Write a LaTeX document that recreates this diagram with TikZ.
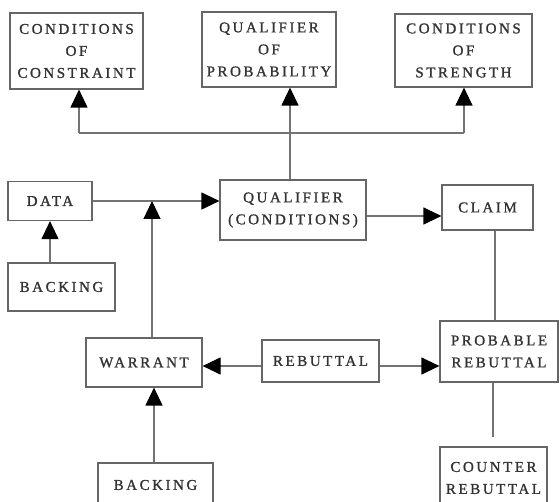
\documentclass[tikz,border=0pt]{standalone}
\usepackage{fontspec}
\usepackage{tikz}
\usetikzlibrary{arrows.meta}
\newfontfamily\boxfont[LetterSpace=17,FakeBold=1.2]{Liberation Serif}

\begin{document}
\begin{tikzpicture}[x=1pt,y=-1pt,
	box/.style={draw=black!60, line width=1.2pt, align=center, text=black!80, inner sep=0pt,
		font=\boxfont\fontsize{15}{22}\selectfont},
	lien/.style={draw=black!55, line width=1.2pt},
	arr/.style={lien, -{Triangle[length=18pt,width=17pt,color=black]}}]
	\clip (0,0) rectangle (560,502);
	% rangée du haut
	\node[box, minimum width=133pt, minimum height=76pt] (coc) at (76.5,51) {CONDITIONS\\OF\\CONSTRAINT};
	\node[box, minimum width=134pt, minimum height=75pt] (qop) at (269,49.5) {QUALIFIER\\OF\\PROBABILITY};
	\node[box, minimum width=137pt, minimum height=73pt] (cos) at (463.5,50.5) {CONDITIONS\\OF\\STRENGTH};
	% milieu
	\node[box, minimum width=84pt, minimum height=39pt] (data) at (50,201) {DATA};
	\node[box, minimum width=107pt, minimum height=48pt] (backA) at (61.5,287) {BACKING};
	\node[box, minimum width=146pt, minimum height=60pt] (qual) at (293,210) {QUALIFIER\\(CONDITIONS)};
	\node[box, minimum width=91pt, minimum height=45pt] (claim) at (487.5,207.5) {CLAIM};
	% bas
	\node[box, minimum width=116pt, minimum height=49pt] (warrant) at (144,362.5) {WARRANT};
	\node[box, minimum width=117pt, minimum height=42pt] (rebut) at (320.5,361) {REBUTTAL};
	\node[box, minimum width=118pt, minimum height=61pt] (prob) at (499,351.5) {PROBABLE\\REBUTTAL};
	\node[box, minimum width=107pt, minimum height=62pt] (counter) at (493.5,478) {COUNTER\\REBUTTAL};
	\node[box, minimum width=115pt, minimum height=44pt] (backB) at (155.5,485) {BACKING};

	% qualifier vers le haut
	\coordinate (hl) at (79,133);
	\coordinate (hr) at (464,133);
	\draw[arr] ([xshift=-3pt]qual.north) -- ([xshift=-3pt]qual.north |- qop.south);
	\draw[lien] (hl) -- (hr);
	\draw[arr] (hl) -- (hl |- coc.south);
	\draw[arr] (hr) -- (hr |- cos.south);

	% data, warrant, claim
	\coordinate (wj) at (152,201);
	\draw[arr] (data.east) -- (data.east -| qual.west);
	\draw[arr] (warrant.north -| wj) -- (wj);
	\draw[arr] (backA.north -| data.south) -- (data.south);
	\draw[arr] ([yshift=-6pt]qual.east) -- ([yshift=-6pt]qual.east -| claim.west);
	\draw[lien] ([xshift=7.5pt]claim.south) -- ([xshift=7.5pt]claim.south |- prob.north);

	% rebuttal
	\draw[arr] ([yshift=-5pt]rebut.west) -- ([yshift=-5pt]rebut.west -| warrant.east);
	\draw[arr] ([yshift=-5pt]rebut.east) -- ([yshift=-5pt]rebut.east -| prob.west);
	\draw[lien, shorten >=9pt] ([xshift=-6pt]prob.south) -- ([xshift=-6pt]prob.south |- counter.north);
	\draw[arr] ([xshift=10pt]warrant.south |- backB.north) -- ([xshift=10pt]warrant.south);
\end{tikzpicture}
\end{document}
